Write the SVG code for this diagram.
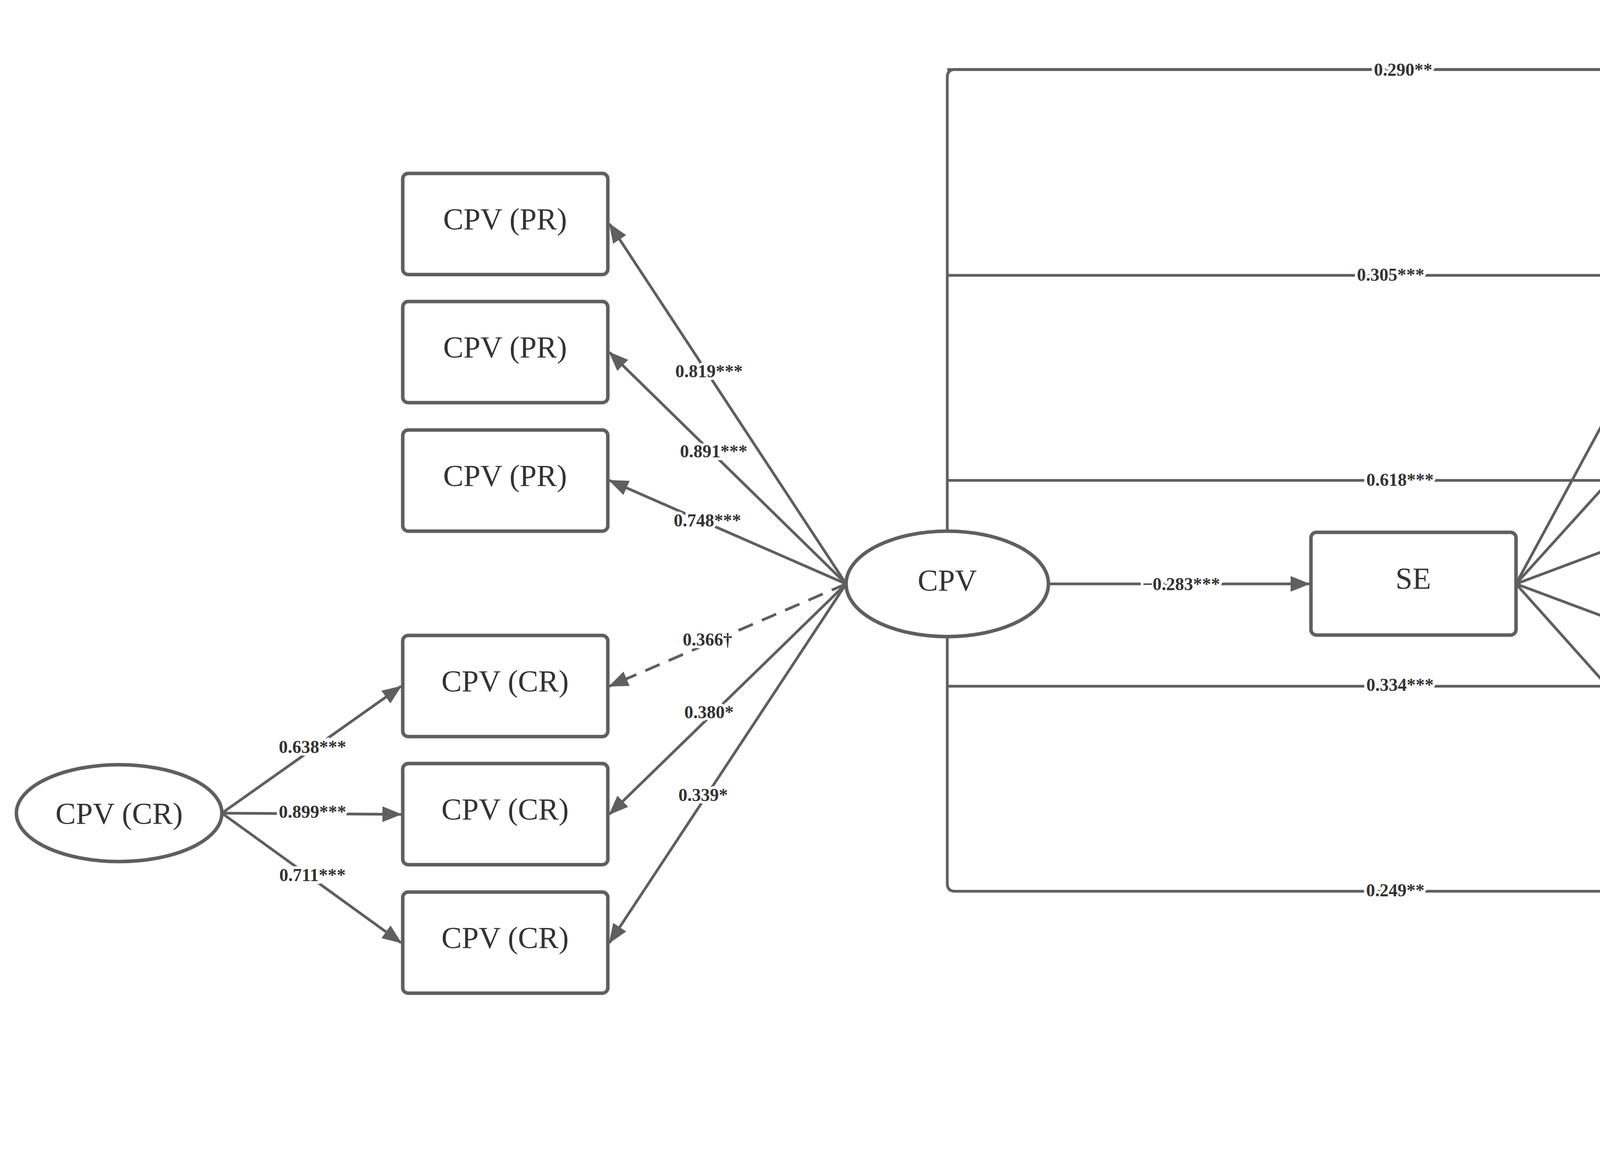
<svg xmlns="http://www.w3.org/2000/svg" width="6056" height="2988" viewBox="0 0 6056 2988">
<style>
.n{fill:#fff;stroke:#5f5f5f;stroke-width:9}
.t{font-family:"Liberation Serif",serif;font-size:78px;fill:#333;text-anchor:middle;dominant-baseline:central}
.c{fill:none;stroke:#5f5f5f;stroke-width:7}
.a{marker-end:url(#ah)}
.b{marker-start:url(#ah);marker-end:url(#ah)}
.l{font-family:"Liberation Serif",serif;font-size:46px;font-weight:bold;fill:#333;text-anchor:middle;dominant-baseline:central;stroke:#fff;stroke-width:14;paint-order:stroke}
</style>
<defs>
<marker id="ah" viewBox="0 0 50 40" refX="48" refY="20" markerUnits="userSpaceOnUse" markerWidth="50" markerHeight="40" orient="auto-start-reverse">
<path d="M0,0 L50,20 L0,40 Z" fill="#5f5f5f"/>
</marker>
</defs>
<rect width="6056" height="2988" fill="#fff"/>
<g id="connectors">
<path class="c a" d="M2166,1495 L1560,573"/>
<path class="c a" d="M2166,1495 L1560,902"/>
<path class="c a" d="M2166,1495 L1560,1230"/>
<path class="c a" d="M2166,1495 L1560,1757" stroke-dasharray="40 25"/>
<path class="c a" d="M2166,1495 L1560,2085"/>
<path class="c a" d="M2166,1495 L1560,2414"/>
<path class="c a" d="M568,2082 L1027,1757"/>
<path class="c a" d="M568,2082 L1027,2085"/>
<path class="c a" d="M568,2082 L1027,2414"/>
<path class="c a" d="M2684,1495 L3352,1495"/>
<path class="c" d="M4584,178 L2445,178 Q2425,178 2425,198 L2425,2262 Q2425,2282 2445,2282"/>
<path class="c a" d="M2425,178 L4584,178"/>
<path class="c a" d="M2425,705 L4584,705"/>
<path class="c a" d="M2425,1230 L4584,1230"/>
<path class="c a" d="M2425,1757 L4584,1757"/>
<path class="c a" d="M2445,2282 L4584,2282"/>
<path class="c a" d="M3881,1495 L4584,195"/>
<path class="c a" d="M3881,1495 L4584,718"/>
<path class="c a" d="M3881,1495 L4584,1232"/>
<path class="c a" d="M3881,1495 L4584,1757"/>
<path class="c a" d="M3881,1495 L4584,2282"/>
<!-- covariances -->
<path class="c b" d="M5114,180 C5337,180 5337,705 5114,705"/>
<path class="c b" d="M5114,705 C5337,705 5337,1230 5114,1230"/>
<path class="c b" d="M5114,1230 C5337,1230 5337,1757 5114,1757"/>
<path class="c b" d="M5114,1757 C5337,1757 5337,2282 5114,2282"/>
<path class="c b" d="M5114,2282 C5337,2282 5337,2808 5114,2808"/>
<path class="c b" d="M5114,180 C5550,180 5550,1230 5114,1230"/>
<path class="c b" d="M5114,705 C5550,705 5550,1757 5114,1757"/>
<path class="c b" d="M5114,1230 C5550,1230 5550,2282 5114,2282"/>
<path class="c b" d="M5114,1757 C5550,1757 5550,2808 5114,2808"/>
<path class="c b" d="M5114,180 C5760,180 5760,1757 5114,1757"/>
<path class="c b" d="M5114,705 C5760,705 5760,2282 5114,2282"/>
<path class="c b" d="M5114,1230 C5760,1230 5760,2808 5114,2808"/>
<path class="c b" d="M5114,180 C5970,180 5970,2282 5114,2282"/>
<path class="c b" d="M5114,705 C5970,705 5970,2808 5114,2808"/>
<path class="c b" d="M5114,180 C6180,180 6180,2808 5114,2808"/>
</g>
<g id="labels">
<text class="l" x="1815" y="950">0.819***</text>
<text class="l" x="1827" y="1155">0.891***</text>
<text class="l" x="1811" y="1332">0.748***</text>
<text class="l" x="1811" y="1637">0.366†</text>
<text class="l" x="1815" y="1823">0.380*</text>
<text class="l" x="1800" y="2035">0.339*</text>
<text class="l" x="800" y="1912">0.638***</text>
<text class="l" x="800" y="2078">0.899***</text>
<text class="l" x="800" y="2240">0.711***</text>
<text class="l" x="3024" y="1495">−0.283***</text>
<text class="l" x="3592" y="178">0.290**</text>
<text class="l" x="3560" y="703">0.305***</text>
<text class="l" x="3584" y="1228">0.618***</text>
<text class="l" x="3584" y="1753">0.334***</text>
<text class="l" x="3572" y="2279">0.249**</text>
<text class="l" x="4345" y="632">−0.338***</text>
<text class="l" x="4318" y="1000">−0.218*</text>
<text class="l" x="4302" y="1325">−0.278***</text>
<text class="l" x="4329" y="1653">−0.273***</text>
<text class="l" x="4329" y="1985">−0.292***</text>
<text class="l" x="5278" y="437">0.618***</text>
<text class="l" x="5278" y="958">0.453***</text>
<text class="l" x="5278" y="1494">0.374**</text>
<text class="l" x="5278" y="2021">0.489***</text>
<text class="l" x="5278" y="2548">0.241**</text>
<text class="l" x="5440" y="613">0.428***</text>
<text class="l" x="5440" y="1226">0.612***</text>
<text class="l" x="5440" y="1757">0.356**</text>
<text class="l" x="5440" y="2283">0.439***</text>
<text class="l" x="5597" y="958">0.600***</text>
<text class="l" x="5597" y="1490">0.382***</text>
<text class="l" x="5597" y="2021">0.257**</text>
<text class="l" x="5755" y="1226">0.642***</text>
<text class="l" x="5755" y="1757">0.583***</text>
<text class="l" x="5915" y="1494">0.532***</text>
</g>
<g id="pr1"><rect class="n" x="1031" y="444" width="525" height="259" rx="14"/><text class="t" x="1293" y="560">CPV (PR)</text></g>
<g id="pr2"><rect class="n" x="1031" y="772" width="525" height="259" rx="14"/><text class="t" x="1293" y="888">CPV (PR)</text></g>
<g id="pr3"><rect class="n" x="1031" y="1101" width="525" height="259" rx="14"/><text class="t" x="1293" y="1217">CPV (PR)</text></g>
<g id="cr1"><rect class="n" x="1031" y="1627" width="525" height="259" rx="14"/><text class="t" x="1293" y="1743">CPV (CR)</text></g>
<g id="cr2"><rect class="n" x="1031" y="1955" width="525" height="259" rx="14"/><text class="t" x="1293" y="2071">CPV (CR)</text></g>
<g id="cr3"><rect class="n" x="1031" y="2284" width="525" height="259" rx="14"/><text class="t" x="1293" y="2400">CPV (CR)</text></g>
<g id="cprcr"><ellipse class="n" cx="305" cy="2082" rx="263" ry="124"/><text class="t" x="305" y="2082">CPV (CR)</text></g>
<g id="cpv"><ellipse class="n" cx="2425" cy="1495" rx="259" ry="135"/><text class="t" x="2425" y="1485">CPV</text></g>
<g id="se"><rect class="n" x="3356" y="1363" width="525" height="263" rx="14"/><text class="t" x="3618" y="1480">SE</text></g>
<g id="dep"><rect class="n" x="4588" y="50" width="522" height="259" rx="14"/><text class="t" x="4849" y="165">DEP</text></g>
<g id="anx"><rect class="n" x="4588" y="575" width="522" height="259" rx="14"/><text class="t" x="4849" y="690">ANX</text></g>
<g id="hos"><rect class="n" x="4588" y="1100" width="522" height="259" rx="14"/><text class="t" x="4849" y="1215">HOS</text></g>
<g id="obs"><rect class="n" x="4588" y="1627" width="522" height="259" rx="14"/><text class="t" x="4849" y="1742">OBS</text></g>
<g id="sen"><rect class="n" x="4588" y="2152" width="522" height="259" rx="14"/><text class="t" x="4849" y="2267">SEN</text></g>
<g id="som"><rect class="n" x="4588" y="2678" width="522" height="259" rx="14"/><text class="t" x="4849" y="2793">SOM</text></g>
</svg>
